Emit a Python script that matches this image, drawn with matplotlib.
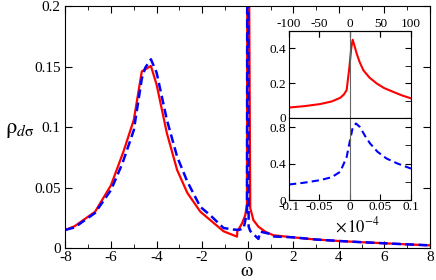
import numpy as np
import matplotlib
matplotlib.use('Agg')
import matplotlib.pyplot as plt
from matplotlib.ticker import MultipleLocator

plt.rcParams['font.family'] = ['Liberation Serif', 'DejaVu Serif']
plt.rcParams['mathtext.fontset'] = 'stix'
plt.rcParams['axes.unicode_minus'] = False

# main panel data
w_red = [-8, -7.6, -6.7, -6.0, -5.45, -5.0, -4.65, -4.25, -4.0, -3.55, -3.1, -2.65,
         -2.08, -1.64, -1.06, -0.47, -0.46, -0.25, -0.11, -0.035, 0.0, 0.11, 0.25,
         0.47, 0.77, 1.13, 2.0, 3.0, 4.0, 5.0, 6.0, 7.0, 8.0]
rho_red = [0.015, 0.018, 0.030, 0.052, 0.080, 0.106, 0.146, 0.1505, 0.135, 0.095,
           0.0645, 0.0455, 0.030, 0.023, 0.0138, 0.0094, 0.0135, 0.0204, 0.027,
           0.036, 0.45, 0.033, 0.023, 0.0176, 0.0135, 0.0105, 0.0088, 0.007,
           0.0058, 0.0048, 0.0039, 0.003, 0.0022]

w_blue = [-8, -7.6, -6.7, -6.0, -5.5, -5.0, -4.65, -4.5, -4.25, -4.0, -3.55, -3.1,
          -2.65, -2.08, -1.64, -1.06, -0.6, -0.4, -0.18, -0.03, 0.0, 0.04, 0.11,
          0.47, 0.55, 0.9, 1.15, 2.0, 3.0, 4.0, 5.0, 6.0, 7.0, 8.0]
rho_blue = [0.015, 0.017, 0.029, 0.048, 0.070, 0.0975, 0.140, 0.149, 0.156, 0.145,
            0.106, 0.0755, 0.0548, 0.034, 0.027, 0.0165, 0.0152, 0.015, 0.016,
            0.03, 0.85, 0.0176, 0.014, 0.0075, 0.0135, 0.012, 0.0095, 0.0088,
            0.007, 0.0058, 0.0048, 0.0039, 0.003, 0.0022]

# inset data, omega in units of 1e-4
iw_red = [-0.1, -0.075, -0.049, -0.03, -0.016, -0.01, -0.0055, -0.001, 0.002,
          0.0044, 0.007, 0.011, 0.016, 0.022, 0.032, 0.044, 0.056, 0.071, 0.085, 0.1]
irho_red = [0.06, 0.068, 0.08, 0.095, 0.116, 0.135, 0.16, 0.29, 0.40, 0.45, 0.42,
            0.37, 0.32, 0.274, 0.232, 0.198, 0.172, 0.15, 0.13, 0.113]

iw_blue = [-0.1, -0.075, -0.049, -0.03, -0.016, -0.0055, -0.001, 0.004, 0.0098,
           0.0164, 0.025, 0.033, 0.045, 0.06, 0.078, 0.1]
irho_blue = [0.17, 0.19, 0.218, 0.25, 0.31, 0.47, 0.62, 0.78, 0.84, 0.80, 0.70,
             0.62, 0.53, 0.455, 0.40, 0.345]

fig = plt.figure(figsize=(4.36, 2.8), dpi=100)
ax = fig.add_axes([0.1502, 0.1143, 0.836, 0.864])
ax.plot(w_red, rho_red, color='red', lw=1.6)
ax.plot(w_blue, rho_blue, color='blue', lw=1.8, dashes=(3.5, 1.8))
ax.set_xlim(-8, 8)
ax.set_ylim(0, 0.2)
ax.xaxis.set_major_locator(MultipleLocator(2))
ax.xaxis.set_minor_locator(MultipleLocator(1))
ax.set_yticks([0, 0.05, 0.1, 0.15, 0.2], ['0', '0.05', '0.1', '0.15', '0.2'])
ax.tick_params(which='both', direction='in', top=True, right=True, labelsize=11)
ax.tick_params(axis='x', pad=2)
ax.tick_params(which='major', length=5)
ax.tick_params(which='minor', length=3)
fig.text(247 / 436, 1 - 271 / 280, r'$\mathrm{\omega}$', fontsize=14,
         ha='center', va='center')
fig.text(0.012, 1 - 130 / 280, r'$\mathrm{\rho}_{\mathit{d}\mathrm{\sigma}}$',
         fontsize=16, va='center', ha='left')

# insets
ax1 = fig.add_axes([0.6628, 0.5786, 0.2798, 0.3107])
ax2 = fig.add_axes([0.6628, 0.2857, 0.2798, 0.2929])
ax1.plot(iw_red, irho_red, color='red', lw=1.5)
ax2.plot(iw_blue, irho_blue, color='blue', lw=1.5, dashes=(3.5, 2))
for a in (ax1, ax2):
    a.axvline(0, color='0.4', lw=0.8)
    a.set_xlim(-0.1, 0.1)
    a.xaxis.set_major_locator(MultipleLocator(0.05))
    a.tick_params(which='both', direction='in', right=True, labelsize=9.5, pad=2)
    a.tick_params(which='major', length=4)
    a.tick_params(which='minor', length=4, left=False)
ax1.set_ylim(0, 0.5)
ax1.set_yticks([0, 0.2, 0.4], ['0', '0.2', '0.4'])
ax1.yaxis.set_minor_locator(MultipleLocator(0.1))
ax1.tick_params(axis='x', bottom=False, labelbottom=False, top=True)
top = ax1.secondary_xaxis('top', functions=(lambda x: x * 1000, lambda x: x / 1000))
top.set_xticks([-100, -50, 0, 50, 100], ['-100', '-50', '0', '50', '100'])
top.tick_params(direction='in', length=4, labelsize=9.5, pad=1)
ax2.set_ylim(0, 0.9)
ax2.set_yticks([0, 0.4, 0.8], ['0', '0.4', '0.8'])
ax2.yaxis.set_minor_locator(MultipleLocator(0.2))
ax2.set_xticks([-0.1, -0.05, 0, 0.05, 0.1], ['-0.1', '-0.05', '0', '0.05', '0.1'])
ax2.tick_params(axis='x', top=False, pad=1)
fig.text(357 / 436, 1 - 226 / 280, r'$\times\,10^{-4}$', fontsize=12,
         ha='center', va='center')

fig.savefig('out.png', dpi=100)
